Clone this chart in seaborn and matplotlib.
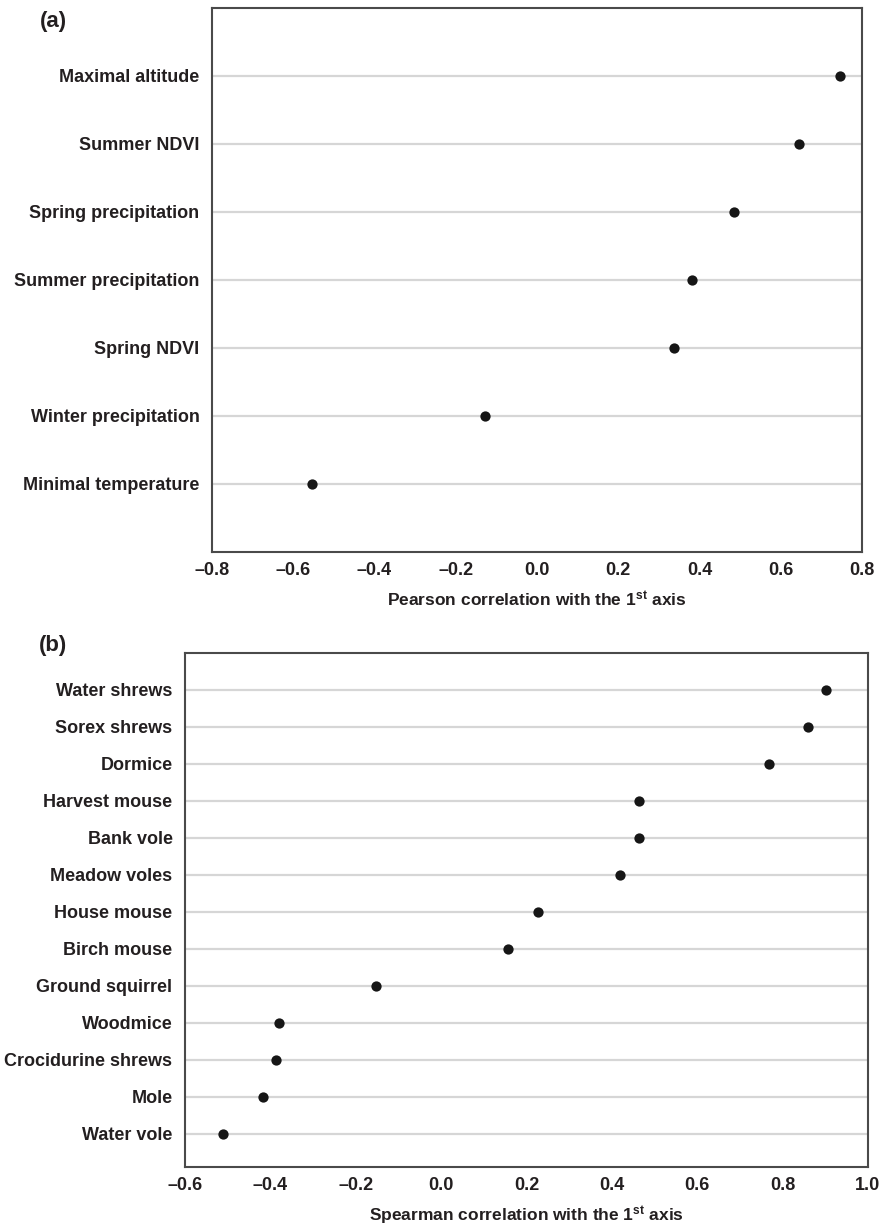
import matplotlib
matplotlib.use("Agg")
import matplotlib.pyplot as plt
from matplotlib.ticker import FuncFormatter
import seaborn as sns
import pandas as pd

# ---- data ----
env_vars = ["Maximal altitude", "Summer NDVI", "Spring precipitation",
            "Summer precipitation", "Spring NDVI", "Winter precipitation",
            "Minimal temperature"]
env_r = [0.747, 0.645, 0.486, 0.382, 0.336, -0.128, -0.553]

species = ["Water shrews", "Sorex shrews", "Dormice", "Harvest mouse",
           "Bank vole", "Meadow voles", "House mouse", "Birch mouse",
           "Ground squirrel", "Woodmice", "Crocidurine shrews", "Mole",
           "Water vole"]
species_r = [0.901, 0.860, 0.768, 0.464, 0.464, 0.418, 0.228, 0.156,
             -0.152, -0.380, -0.387, -0.417, -0.510]

xticks_a = [-0.8, -0.6, -0.4, -0.2, 0.0, 0.2, 0.4, 0.6, 0.8]
xticks_b = [-0.6, -0.4, -0.2, 0.0, 0.2, 0.4, 0.6, 0.8, 1.0]

xlabel_a = r"Pearson correlation with the 1$^{\mathbf{st}}$ axis"
xlabel_b = r"Spearman correlation with the 1$^{\mathbf{st}}$ axis"

# ---- style ----
sns.set_style("white")
plt.rcParams['font.family'] = ['Liberation Sans', 'DejaVu Sans']
plt.rcParams['font.weight'] = 'bold'
plt.rcParams['mathtext.fontset'] = 'custom'
plt.rcParams['mathtext.bf'] = 'Liberation Sans:bold'
plt.rcParams['mathtext.rm'] = 'Liberation Sans:bold'
plt.rcParams['mathtext.it'] = 'Liberation Sans:bold:italic'

TEXT = '#231f20'
SPINE = '#4a4a4a'
GRID = '#d6d6d6'

W, H = 881, 1232
fig = plt.figure(figsize=(W / 100, H / 100), dpi=100)
fig.patch.set_facecolor('white')

ax1 = fig.add_axes([212 / W, 1 - 552 / H, 650 / W, 544 / H])
ax2 = fig.add_axes([185 / W, 1 - 1167 / H, 683 / W, 514 / H])

fmt = FuncFormatter(lambda v, p: f"{v:.1f}".replace('-', '\u2013'))


def panel(ax, cats, vals, xlim, xticks, xlabel, ylim):
    df = pd.DataFrame({'cat': cats, 'r': vals})
    sns.stripplot(data=df, x='r', y='cat', order=cats, jitter=False,
                  size=7.4, color='#161616', linewidth=0, orient='h',
                  ax=ax, zorder=3)
    ax.set_xlim(*xlim)
    ax.set_xticks(xticks)
    ax.xaxis.set_major_formatter(fmt)
    ax.set_ylim(*ylim)
    ax.grid(False)
    ax.yaxis.grid(True, color=GRID, linewidth=1.6)
    ax.set_axisbelow(True)
    for s in ax.spines.values():
        s.set_visible(True)
        s.set_color(SPINE)
        s.set_linewidth(1.5)
    ax.tick_params(axis='x', direction='in', length=3, width=1.2,
                   color=SPINE, pad=7, labelsize=13, labelcolor=TEXT)
    ax.tick_params(axis='y', direction='out', length=3, width=1.0,
                   color=SPINE, pad=6, labelsize=13, labelcolor=TEXT)
    for lab in ax.get_xticklabels() + ax.get_yticklabels():
        lab.set_fontweight('bold')
    ax.set_ylabel('')
    ax.set_xlabel(xlabel, fontsize=12.5, fontweight='bold', color=TEXT,
                  labelpad=8)


panel(ax1, env_vars, env_r, (-0.8, 0.8), xticks_a, xlabel_a, (7.0, -1.0))
panel(ax2, species, species_r, (-0.6, 1.0), xticks_b, xlabel_b, (12.9, -1.0))

fig.text(53 / W, 1 - 21 / H, "(a)", ha='center', va='center',
         fontsize=16, fontweight='bold', color=TEXT)
fig.text(53 / W, 1 - 645 / H, "(b)", ha='center', va='center',
         fontsize=16, fontweight='bold', color=TEXT)

fig.savefig("out.png", dpi=100, facecolor='white')
